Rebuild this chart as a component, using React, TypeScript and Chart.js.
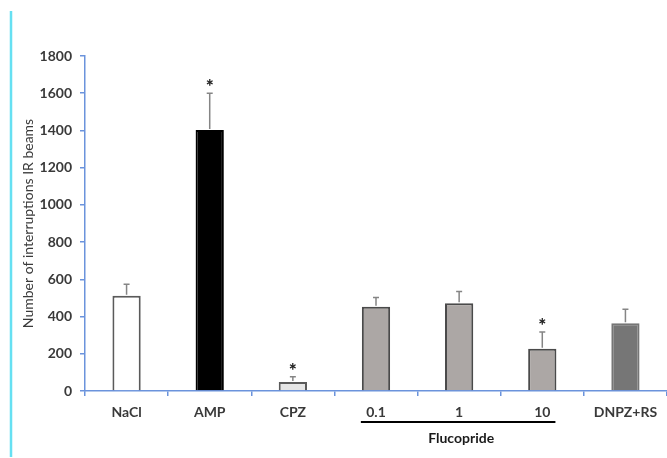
import React, { useEffect, useRef } from "react";
import { Chart, registerables } from "chart.js";

Chart.register(...registerables);

const categories = ["NaCl", "AMP", "CPZ", "0.1", "1", "10", "DNPZ+RS"];
const means = [512, 1402, 48, 453, 471, 227, 364];
const errors = [61, 198, 29, 50, 63, 90, 75];
const significant = [false, true, true, false, false, true, false];
const fillColors = ["#ffffff", "#000000", "#e6e6e6", "#aca7a5", "#aca7a5", "#aca7a5", "#767676"];
const borderColors = ["#5a5a5a", "#000000", "#5a5a5a", "#4a4a4a", "#4a4a4a", "#4a4a4a", "#767676"];
const groupLabel = "Flucopride";
const groupStart = 3;
const groupEnd = 5;
const yTitle = "Number of interruptions IR beams";

const AXIS_BLUE = "#6b93dc";
const FONT = "Lato";

const decorPlugin = {
  id: "decor",
  beforeDraw(chart: any) {
    const ctx = chart.ctx;
    ctx.save();
    ctx.strokeStyle = "#66e0f2";
    ctx.lineWidth = 2.5;
    ctx.beginPath();
    ctx.moveTo(11, 11);
    ctx.lineTo(11, 457);
    ctx.stroke();
    ctx.restore();
  },
  afterDatasetsDraw(chart: any) {
    const ctx = chart.ctx;
    const meta = chart.getDatasetMeta(0);
    const y = chart.scales.y;
    ctx.save();
    meta.data.forEach((el: any, i: number) => {
      const x = el.x;
      const top = el.y;
      const ey = y.getPixelForValue(means[i] + errors[i]);
      ctx.strokeStyle = "#858585";
      ctx.lineWidth = 1.5;
      ctx.beginPath();
      ctx.moveTo(x, top - 1);
      ctx.lineTo(x, ey);
      ctx.moveTo(x - 3, ey);
      ctx.lineTo(x + 3, ey);
      ctx.stroke();
      if (significant[i]) {
        ctx.fillStyle = "#222222";
        ctx.font = `900 19px ${FONT}`;
        ctx.textAlign = "center";
        ctx.textBaseline = "middle";
        ctx.fillText("*", x, ey - 6);
      }
    });
    const a = meta.data[groupStart];
    const b = meta.data[groupEnd];
    const x1 = a.x - a.width / 2 - 1;
    const x2 = b.x + b.width / 2 - 1;
    const lineY = y.bottom + 31;
    ctx.strokeStyle = "#000000";
    ctx.lineWidth = 2;
    ctx.beginPath();
    ctx.moveTo(x1, lineY);
    ctx.lineTo(x2, lineY);
    ctx.stroke();
    ctx.fillStyle = "#1a1a1a";
    ctx.font = `bold 14px ${FONT}`;
    ctx.textAlign = "center";
    ctx.textBaseline = "middle";
    ctx.fillText(groupLabel, (x1 + x2) / 2 + 3, lineY + 16);
    ctx.restore();
  },
};

export default function App() {
  const ref = useRef<HTMLCanvasElement>(null);
  useEffect(() => {
    if (!ref.current) return;
    const chart = new Chart(ref.current, {
      type: "bar",
      data: {
        labels: categories,
        datasets: [
          {
            data: means,
            backgroundColor: fillColors,
            borderColor: borderColors,
            borderWidth: 2,
            borderSkipped: "bottom",
            categoryPercentage: 1,
            barPercentage: 0.34,
          },
        ],
      },
      options: {
        animation: false,
        responsive: true,
        maintainAspectRatio: false,
        layout: { padding: { left: 12, top: 56, right: 0, bottom: 0 } },
        plugins: { legend: { display: false }, tooltip: { enabled: false } },
        scales: {
          x: {
            afterFit: (s: any) => {
              s.height = 67;
            },
            grid: {
              offset: true,
              drawOnChartArea: false,
              drawTicks: true,
              tickLength: 5,
              color: AXIS_BLUE,
              lineWidth: 1.5,
            },
            border: { color: AXIS_BLUE, width: 1.5 },
            ticks: {
              color: "#3a3a3a",
              font: { family: FONT, size: 14, weight: "bold" },
              padding: 8,
            },
          },
          y: {
            min: 0,
            max: 1800,
            afterFit: (s: any) => {
              s.width = 73;
            },
            grid: {
              drawOnChartArea: false,
              drawTicks: true,
              tickLength: 5,
              color: AXIS_BLUE,
              lineWidth: 1.5,
            },
            border: { color: AXIS_BLUE, width: 1.5 },
            ticks: {
              stepSize: 200,
              color: "#3a3a3a",
              font: { family: FONT, size: 14, weight: "bold" },
              padding: 8,
              callback: (v: any) => String(v),
            },
            title: {
              display: true,
              text: yTitle,
              color: "#3a3a3a",
              font: { family: FONT, size: 14 },
              padding: { top: 8, bottom: 0 },
            },
          },
        },
      },
      plugins: [decorPlugin],
    });
    return () => chart.destroy();
  }, []);
  return (
    <div style={{ position: "absolute", left: 0, top: 0, width: 667, height: 458, background: "#ffffff" }}>
      <canvas ref={ref} />
    </div>
  );
}
